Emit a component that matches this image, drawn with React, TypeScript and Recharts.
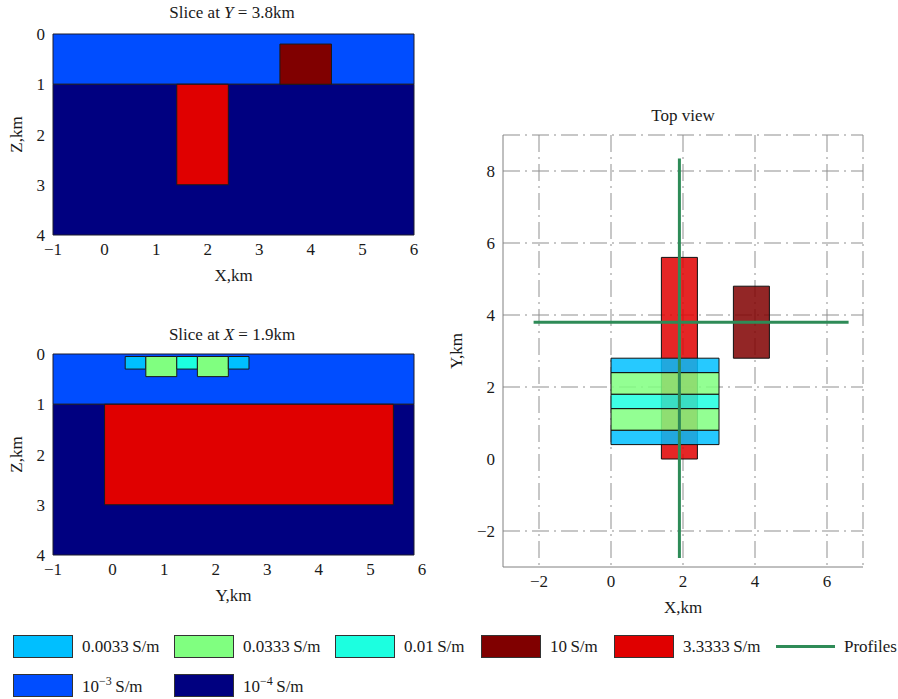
import {
  ComposedChart,
  XAxis,
  YAxis,
  CartesianGrid,
  ReferenceArea,
  Line,
  Label,
} from 'recharts';

// conductivity classes (key -> legend text)
const CLASSES = ['c0033', 'c0333', 'c01', 'c10', 'c3333', 'e3', 'e4'];

const CLASS_COLORS: Record<string, string> = {
  c0033: '#00bfff',
  c0333: '#80ff80',
  c01: '#1cffe0',
  c10: '#800000',
  c3333: '#e00000',
  e3: '#004dff',
  e4: '#000080',
};

// background half-space, Z in km
const BACKGROUND = [
  { key: 'e3', z1: 0, z2: 1 },
  { key: 'e4', z1: 1, z2: 4 },
];

// slice at Y = 3.8 km (X, Z)
const SLICE_Y_BODIES = [
  { key: 'c3333', x1: 1.4, x2: 2.4, z1: 1, z2: 3 },
  { key: 'c10', x1: 3.4, x2: 4.4, z1: 0.2, z2: 1 },
];

// slice at X = 1.9 km (Y, Z)
const SLICE_X_BODIES = [
  { key: 'c3333', y1: 0, y2: 5.6, z1: 1, z2: 3 },
  { key: 'c0033', y1: 0.4, y2: 0.8, z1: 0.05, z2: 0.3 },
  { key: 'c0333', y1: 0.8, y2: 1.4, z1: 0.05, z2: 0.45 },
  { key: 'c01', y1: 1.4, y2: 1.8, z1: 0.05, z2: 0.3 },
  { key: 'c0333', y1: 1.8, y2: 2.4, z1: 0.05, z2: 0.45 },
  { key: 'c0033', y1: 2.4, y2: 2.8, z1: 0.05, z2: 0.3 },
];

// top view (X, Y)
const TOP_BODIES = [
  { key: 'c3333', x1: 1.4, x2: 2.4, y1: 0, y2: 5.6 },
  { key: 'c10', x1: 3.4, x2: 4.4, y1: 2.8, y2: 4.8 },
  { key: 'c0033', x1: 0, x2: 3, y1: 0.4, y2: 0.8 },
  { key: 'c0333', x1: 0, x2: 3, y1: 0.8, y2: 1.4 },
  { key: 'c01', x1: 0, x2: 3, y1: 1.4, y2: 1.8 },
  { key: 'c0333', x1: 0, x2: 3, y1: 1.8, y2: 2.4 },
  { key: 'c0033', x1: 0, x2: 3, y1: 2.4, y2: 2.8 },
];

const PROFILE_ALONG_X = [
  { x: -2.15, y: 3.8 },
  { x: 6.6, y: 3.8 },
];
const PROFILE_ALONG_Y = [
  { x: 1.9, y: -2.75 },
  { x: 1.9, y: 8.35 },
];

const SLICE_H_TICKS = [-1, 0, 1, 2, 3, 4, 5, 6];
const SLICE_Z_TICKS = [0, 1, 2, 3, 4];
const TOP_X_TICKS = [-2, 0, 2, 4, 6];
const TOP_Y_TICKS = [-2, 0, 2, 4, 6, 8];
const TOP_GRID_X = [-2, 0, 2, 4, 6, 7];
const TOP_GRID_Y = [-2, 2, 4, 6, 8, 9];

const FONT = '"Liberation Serif", "DejaVu Serif", serif';
const TEXT = '#1a1a1a';
const PROFILE_COLOR = '#2e8b57';
const tickStyle = { fontSize: 17, fill: TEXT, fontFamily: FONT };

const fmt = (v: number) => (v < 0 ? `\u2212${Math.abs(v)}` : String(v));

function legendLabel(key: string) {
  switch (key) {
    case 'c0033':
      return <>0.0033{'\u2009'}S/m</>;
    case 'c0333':
      return <>0.0333{'\u2009'}S/m</>;
    case 'c01':
      return <>0.01{'\u2009'}S/m</>;
    case 'c10':
      return <>10{'\u2009'}S/m</>;
    case 'c3333':
      return <>3.3333{'\u2009'}S/m</>;
    case 'e3':
      return <>10<sup style={{ fontSize: 12 }}>{'\u2212'}3</sup>{'\u2009'}S/m</>;
    default:
      return <>10<sup style={{ fontSize: 12 }}>{'\u2212'}4</sup>{'\u2009'}S/m</>;
  }
}

// the Y-slice labels sit a bit right of their grid positions in the original
function ShiftedTick({ x, y, payload }: any) {
  const shift = payload.value === -1 ? 0 : 8;
  return (
    <text x={x + shift} y={y} dy="0.71em" textAnchor="middle" style={tickStyle}>
      {fmt(payload.value)}
    </text>
  );
}

function Slice({
  bodies,
  xLabel,
  shifted,
}: {
  bodies: { key: string; h1: number; h2: number; z1: number; z2: number }[];
  xLabel: string;
  shifted?: boolean;
}) {
  return (
    <ComposedChart width={440} height={290} margin={{ top: 34, right: 26, bottom: 15, left: 0 }}>
      <XAxis
        type="number"
        dataKey="x"
        domain={[-1, 6]}
        ticks={SLICE_H_TICKS}
        interval={0}
        allowDataOverflow
        axisLine={false}
        tickLine={false}
        height={40}
        tick={shifted ? <ShiftedTick /> : tickStyle}
        tickFormatter={fmt}
      >
        <Label value={xLabel} position="insideBottom" offset={-6} style={tickStyle} />
      </XAxis>
      <YAxis
        type="number"
        dataKey="y"
        domain={[0, 4]}
        reversed
        ticks={SLICE_Z_TICKS}
        interval={0}
        allowDataOverflow
        axisLine={false}
        tickLine={false}
        width={53}
        tick={tickStyle}
      >
        <Label
          value="Z,km"
          angle={-90}
          position="insideLeft"
          offset={16}
          style={{ ...tickStyle, textAnchor: 'middle' }}
        />
      </YAxis>
      {BACKGROUND.map((b, i) => (
        <ReferenceArea
          key={'bg' + i}
          x1={-1}
          x2={6}
          y1={b.z1}
          y2={b.z2}
          fill={CLASS_COLORS[b.key]}
          fillOpacity={1}
          stroke="#1c1c2c"
          strokeWidth={1}
        />
      ))}
      {bodies.map((b, i) => (
        <ReferenceArea
          key={'b' + i}
          x1={b.h1}
          x2={b.h2}
          y1={b.z1}
          y2={b.z2}
          fill={CLASS_COLORS[b.key]}
          fillOpacity={1}
          stroke="#1a1a1a"
          strokeWidth={1}
        />
      ))}
    </ComposedChart>
  );
}

function TopView() {
  return (
    <ComposedChart width={440} height={520} margin={{ top: 35, right: 17, bottom: 13, left: 0 }}>
      <CartesianGrid
        verticalValues={TOP_GRID_X}
        horizontalValues={TOP_GRID_Y}
        stroke="#8f8f8f"
        strokeDasharray="17 5 2 5"
      />
      <XAxis
        type="number"
        dataKey="x"
        domain={[-3, 7]}
        ticks={TOP_X_TICKS}
        interval={0}
        allowDataOverflow
        axisLine={{ stroke: '#808080' }}
        tickLine={false}
        height={40}
        tick={tickStyle}
        tickFormatter={fmt}
      >
        <Label value="X,km" position="insideBottom" offset={-6} style={tickStyle} />
      </XAxis>
      <YAxis
        type="number"
        dataKey="y"
        domain={[-3, 9]}
        ticks={TOP_Y_TICKS}
        interval={0}
        allowDataOverflow
        axisLine={{ stroke: '#808080' }}
        tickLine={false}
        width={63}
        tick={tickStyle}
        tickFormatter={fmt}
      >
        <Label
          value="Y,km"
          angle={-90}
          position="insideLeft"
          offset={16}
          style={{ ...tickStyle, textAnchor: 'middle' }}
        />
      </YAxis>
      {TOP_BODIES.map((b, i) => (
        <ReferenceArea
          key={'t' + i}
          x1={b.x1}
          x2={b.x2}
          y1={b.y1}
          y2={b.y2}
          fill={CLASS_COLORS[b.key]}
          fillOpacity={0.85}
          stroke="#111"
          strokeWidth={1}
        />
      ))}
      <Line
        data={PROFILE_ALONG_X}
        dataKey="y"
        type="linear"
        stroke={PROFILE_COLOR}
        strokeWidth={3}
        dot={false}
        activeDot={false}
        isAnimationActive={false}
      />
      <Line
        data={PROFILE_ALONG_Y}
        dataKey="y"
        type="linear"
        stroke={PROFILE_COLOR}
        strokeWidth={3}
        dot={false}
        activeDot={false}
        isAnimationActive={false}
      />
    </ComposedChart>
  );
}

const titleStyle = (left: number, top: number, width: number) =>
  ({
    position: 'absolute',
    left,
    top,
    width,
    textAlign: 'center',
    fontFamily: FONT,
    fontSize: 17,
    lineHeight: '20px',
    color: TEXT,
  }) as const;

// legend slot positions (px) – first row then second row
const LEGEND_SLOTS = [
  [13, 635],
  [174, 635],
  [335, 635],
  [481, 635],
  [614, 635],
  [13, 674],
  [174, 674],
];

export default function App() {
  return (
    <div style={{ position: 'absolute', left: 0, top: 0, width: 898, height: 699, background: '#fff' }}>
      <div style={titleStyle(132, 3, 200)}>
        Slice at <i>Y</i> = 3.8km
      </div>
      <div style={{ position: 'absolute', left: 0, top: 0 }}>
        <Slice
          bodies={SLICE_Y_BODIES.map((b) => ({ key: b.key, h1: b.x1, h2: b.x2, z1: b.z1, z2: b.z2 }))}
          xLabel="X,km"
        />
      </div>

      <div style={titleStyle(132, 325, 200)}>
        Slice at <i>X</i> = 1.9km
      </div>
      <div style={{ position: 'absolute', left: 0, top: 320 }}>
        <Slice
          bodies={SLICE_X_BODIES.map((b) => ({ key: b.key, h1: b.y1, h2: b.y2, z1: b.z1, z2: b.z2 }))}
          xLabel="Y,km"
          shifted
        />
      </div>

      <div style={titleStyle(583, 106, 200)}>Top view</div>
      <div style={{ position: 'absolute', left: 440, top: 100 }}>
        <TopView />
      </div>

      {CLASSES.map((key, i) => (
        <div
          key={key}
          style={{
            position: 'absolute',
            left: LEGEND_SLOTS[i][0],
            top: LEGEND_SLOTS[i][1],
            display: 'flex',
            alignItems: 'center',
            height: 23,
            fontFamily: FONT,
            fontSize: 17,
            color: TEXT,
            whiteSpace: 'nowrap',
          }}
        >
          <div
            style={{
              width: 60,
              height: 23,
              boxSizing: 'border-box',
              border: '1px solid #333',
              background: CLASS_COLORS[key],
              marginRight: 9,
            }}
          />
          <span>{legendLabel(key)}</span>
        </div>
      ))}
      <div
        style={{
          position: 'absolute',
          left: 776,
          top: 635,
          display: 'flex',
          alignItems: 'center',
          height: 23,
          fontFamily: FONT,
          fontSize: 17,
          color: TEXT,
        }}
      >
        <div style={{ width: 59, height: 3, background: PROFILE_COLOR, marginRight: 9 }} />
        <span>Profiles</span>
      </div>
    </div>
  );
}
